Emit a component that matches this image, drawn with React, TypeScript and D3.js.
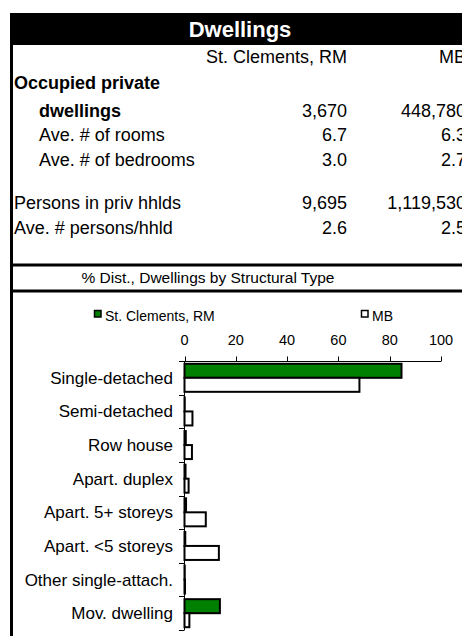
import React, { useRef, useEffect } from "react";
import * as d3 from "d3";

const W = 462;
const H = 636;

// table rows
const tableCols = ["St. Clements, RM", "MB"];
const rowLabels = [
  "Occupied private",
  "dwellings",
  "Ave. # of rooms",
  "Ave. # of bedrooms",
  "Persons in priv hhlds",
  "Ave. # persons/hhld",
];
const rowLocal = ["", "3,670", "6.7", "3.0", "9,695", "2.6"];
const rowMB = ["", "448,780", "6.3", "2.7", "1,119,530", "2.5"];

// chart data
const categories = [
  "Single-detached",
  "Semi-detached",
  "Row house",
  "Apart. duplex",
  "Apart. 5+ storeys",
  "Apart. <5 storeys",
  "Other single-attach.",
  "Mov. dwelling",
];
const localValues = [84.6, 0.1, 0.5, 0.4, 0.6, 0.3, 0.1, 13.8];
const mbValues = [68.2, 3.1, 2.9, 1.6, 8.3, 13.4, 0.2, 1.9];
const xTicks = [0, 20, 40, 60, 80, 100];

const FONT = "'Liberation Sans', Arial, sans-serif";

const App: React.FC = () => {
  const svgRef = useRef<SVGSVGElement | null>(null);

  useEffect(() => {
    const svg = d3.select(svgRef.current);
    svg.selectAll("*").remove();
    svg.attr("width", W).attr("height", H).style("font-family", FONT);

    svg.append("rect").attr("width", W).attr("height", H).attr("fill", "#fff");

    // header bar
    svg.append("rect").attr("x", 10).attr("y", 13).attr("width", W).attr("height", 32).attr("fill", "#000");
    svg
      .append("text")
      .attr("x", 240)
      .attr("y", 37)
      .attr("text-anchor", "middle")
      .attr("fill", "#fff")
      .attr("font-weight", "bold")
      .attr("font-size", 22)
      .text("Dwellings");

    // left border
    svg.append("rect").attr("x", 10).attr("y", 13).attr("width", 3).attr("height", H - 13).attr("fill", "#000");

    // column headers
    const colX = [347, 466];
    tableCols.forEach((c, i) => {
      svg
        .append("text")
        .attr("x", colX[i])
        .attr("y", 63)
        .attr("text-anchor", "end")
        .attr("font-size", 18)
        .text(c);
    });

    const rowY = [89, 117, 141, 166, 209, 234];
    const rowIndent = [14, 39, 39, 39, 14, 14];
    const rowBold = [true, true, false, false, false, false];
    rowLabels.forEach((lab, i) => {
      svg
        .append("text")
        .attr("x", rowIndent[i])
        .attr("y", rowY[i])
        .attr("font-size", 18)
        .attr("font-weight", rowBold[i] ? "bold" : "normal")
        .text(lab);
      svg
        .append("text")
        .attr("x", colX[0])
        .attr("y", rowY[i])
        .attr("text-anchor", "end")
        .attr("font-size", 18)
        .text(rowLocal[i]);
      svg
        .append("text")
        .attr("x", colX[1])
        .attr("y", rowY[i])
        .attr("text-anchor", "end")
        .attr("font-size", 18)
        .text(rowMB[i]);
    });

    // separator lines
    [265, 291].forEach((y) => {
      svg.append("rect").attr("x", 10).attr("y", y - 1.5).attr("width", W).attr("height", 3).attr("fill", "#000");
    });
    svg
      .append("text")
      .attr("x", 208)
      .attr("y", 283)
      .attr("text-anchor", "middle")
      .attr("font-size", 15.5)
      .text("% Dist., Dwellings by Structural Type");

    // chart
    const x = d3.scaleLinear().domain([0, 100]).range([184.5, 441]);
    const y = d3.scaleBand<string>().domain(categories).range([361, 630]);
    const sub = d3
      .scaleBand<string>()
      .domain(["local", "mb"])
      .range([0, y.bandwidth()])
      .paddingInner(0)
      .paddingOuter(0.2);

    // legend
    const legend = svg.append("g").attr("font-size", 14);
    const legendItems = [
      { label: "St. Clements, RM", fill: "#008000", x: 94 },
      { label: "MB", fill: "#fff", x: 361 },
    ];
    legendItems.forEach((l) => {
      legend
        .append("rect")
        .attr("x", l.x + 0.5)
        .attr("y", 310.5)
        .attr("width", 6.5)
        .attr("height", 6.5)
        .attr("fill", l.fill)
        .attr("stroke", "#000")
        .attr("stroke-width", 1.5);
      legend
        .append("text")
        .attr("x", l.x + 11)
        .attr("y", 321)
        .text(l.label);
    });

    // x axis (top)
    const gx = svg.append("g");
    gx.append("line")
      .attr("x1", x(0))
      .attr("x2", x(100))
      .attr("y1", 361.5)
      .attr("y2", 361.5)
      .attr("stroke", "#000");
    gx.selectAll(".xt")
      .data(xTicks)
      .enter()
      .append("line")
      .attr("x1", (d) => Math.round(x(d)) + 0.5)
      .attr("x2", (d) => Math.round(x(d)) + 0.5)
      .attr("y1", 356.5)
      .attr("y2", 361.5)
      .attr("stroke", "#000");
    gx.selectAll(".xl")
      .data(xTicks)
      .enter()
      .append("text")
      .attr("x", (d) => x(d))
      .attr("y", 345)
      .attr("text-anchor", "middle")
      .attr("font-size", 14.5)
      .text((d) => d);

    // bars
    const bars = svg.append("g");
    categories.forEach((c, i) => {
      const y0 = y(c) as number;
      bars
        .append("rect")
        .attr("x", x(0))
        .attr("y", y0 + (sub("local") as number))
        .attr("width", x(localValues[i]) - x(0))
        .attr("height", sub.bandwidth())
        .attr("fill", "#008000")
        .attr("stroke", "#000")
        .attr("stroke-width", 2);
      bars
        .append("rect")
        .attr("x", x(0))
        .attr("y", y0 + (sub("mb") as number))
        .attr("width", x(mbValues[i]) - x(0))
        .attr("height", sub.bandwidth())
        .attr("fill", "#fff")
        .attr("stroke", "#000")
        .attr("stroke-width", 2);
    });

    // y axis
    const gy = svg.append("g");
    gy.append("line")
      .attr("x1", 184.5)
      .attr("x2", 184.5)
      .attr("y1", 361)
      .attr("y2", 630)
      .attr("stroke", "#000");
    const bounds = categories.map((c) => y(c) as number).concat([630]);
    gy.selectAll(".yt")
      .data(bounds)
      .enter()
      .append("line")
      .attr("x1", 179)
      .attr("x2", 184.5)
      .attr("y1", (d) => Math.round(d) + 0.5)
      .attr("y2", (d) => Math.round(d) + 0.5)
      .attr("stroke", "#000");
    gy.selectAll(".yl")
      .data(categories)
      .enter()
      .append("text")
      .attr("x", 173)
      .attr("y", (d) => (y(d) as number) + y.bandwidth() / 2 + 6)
      .attr("text-anchor", "end")
      .attr("font-size", 17)
      .text((d) => d);
  }, []);

  return (
    <div style={{ position: "absolute", left: 0, top: 0 }}>
      <svg ref={svgRef} />
    </div>
  );
};

export default App;
